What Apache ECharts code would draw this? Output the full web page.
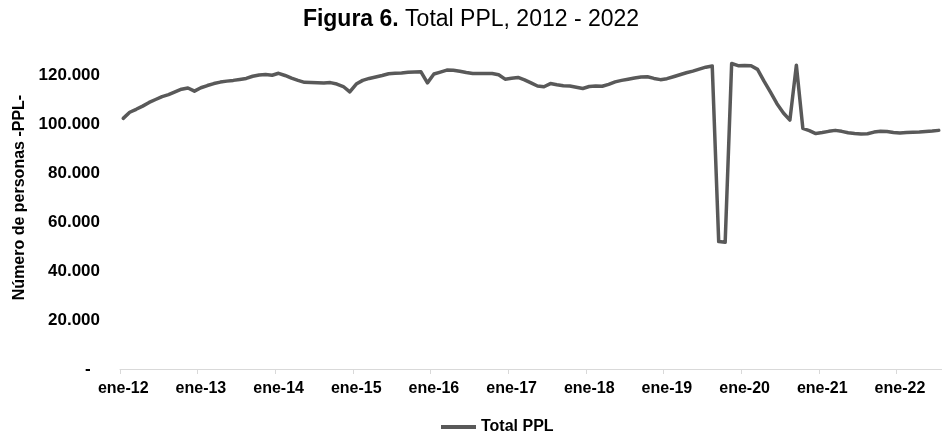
<!DOCTYPE html>
<html>
<head>
<meta charset="utf-8">
<script src="https://cdn.jsdelivr.net/npm/echarts@6/dist/echarts.min.js"></script>
<style>
html,body{margin:0;padding:0;background:#fff;}
#c{width:942px;height:431px;}
</style>
</head>
<body>
<div id="c"></div>
<script>
// Month abbreviations (Spanish) and years for category labels
var monthNames = ['ene','feb','mar','abr','may','jun','jul','ago','sep','oct','nov','dic'];
var startYear = 2012;
var monthCount = 127; // ene-12 .. jul-22

// Total PPL, monthly values
var totalPPL = [
  102300,104800,106000,107300,108800,110000,111200,112000,113100,114200,114700,113400,
  114800,115700,116500,117100,117500,117800,118200,118600,119500,120000,120200,119900,
  120700,119800,118700,117800,117000,116900,116800,116700,116900,116300,115300,113100,
  116300,117800,118600,119200,119800,120500,120700,120800,121100,121200,121300,116800,
  120400,121200,122000,121900,121500,121000,120600,120600,120600,120600,120100,118300,
  118700,119000,118000,116800,115500,115200,116500,116000,115600,115500,115000,114500,
  115300,115500,115400,116200,117200,117800,118300,118800,119200,119300,118600,118100,
  118500,119300,120100,120900,121600,122400,123200,123700,52000,51700,124700,123800,
  123900,123800,122300,117500,113000,108300,104500,101600,124000,98200,97300,96100,
  96500,97000,97400,97000,96400,96100,95900,96000,96700,97000,96900,96500,
  96300,96500,96600,96700,96900,97100,97400
];

var categories = [];
for (var i = 0; i < monthCount; i++) {
  var y = startYear + Math.floor(i / 12);
  categories.push(monthNames[i % 12] + '-' + String(y).slice(2));
}

var font = "'Liberation Sans', Arial, sans-serif";
var chart = echarts.init(document.getElementById('c'), null, {renderer: 'canvas'});
chart.setOption({
  animation: false,
  backgroundColor: '#ffffff',
  title: {
    left: 'center',
    top: 3,
    text: '{b|Figura 6.} Total PPL, 2012 - 2022',
    textStyle: {
      fontFamily: font, fontSize: 23, fontWeight: 'normal', color: '#000',
      rich: { b: { fontFamily: font, fontSize: 23, fontWeight: 'bold', color: '#000' } }
    }
  },
  legend: {
    left: 436,
    top: 414,
    icon: 'rect',
    itemWidth: 35,
    itemHeight: 4,
    textStyle: { fontFamily: font, fontSize: 16, fontWeight: 'bold', color: '#000' },
    data: ['Total PPL']
  },
  grid: { left: 120, width: 824, top: 26, bottom: 62, containLabel: false },
  xAxis: {
    type: 'category',
    data: categories,
    boundaryGap: true,
    axisLine: { show: true, lineStyle: { color: '#d9d9d9', width: 1 } },
    axisTick: { show: true, interval: 11, length: 5, lineStyle: { color: '#d9d9d9' } },
    axisLabel: { interval: 11, margin: 12, fontFamily: font, fontSize: 16, fontWeight: 'bold', color: '#000' },
    splitLine: { show: false }
  },
  yAxis: {
    type: 'value',
    min: 0,
    max: 140000,
    interval: 20000,
    name: 'Número de personas -PPL-',
    nameLocation: 'middle',
    nameGap: 92,
    nameTextStyle: { fontFamily: font, fontSize: 16, fontWeight: 'bold', color: '#000' },
    axisLine: { show: false },
    axisTick: { show: false },
    splitLine: { show: false },
    axisLabel: {
      margin: 20, fontFamily: font, fontSize: 17, fontWeight: 'bold', color: '#000',
      formatter: function (v) {
        if (v === 0) return '-  ';
        if (v > 120000) return '';
        return (v / 1000) + '.000';
      }
    }
  },
  series: [{
    name: 'Total PPL',
    type: 'line',
    data: totalPPL,
    symbol: 'none',
    smooth: false,
    lineStyle: { color: '#595959', width: 3.5, join: 'round', cap: 'round' },
    itemStyle: { color: '#595959' }
  }]
});
</script>
</body>
</html>
